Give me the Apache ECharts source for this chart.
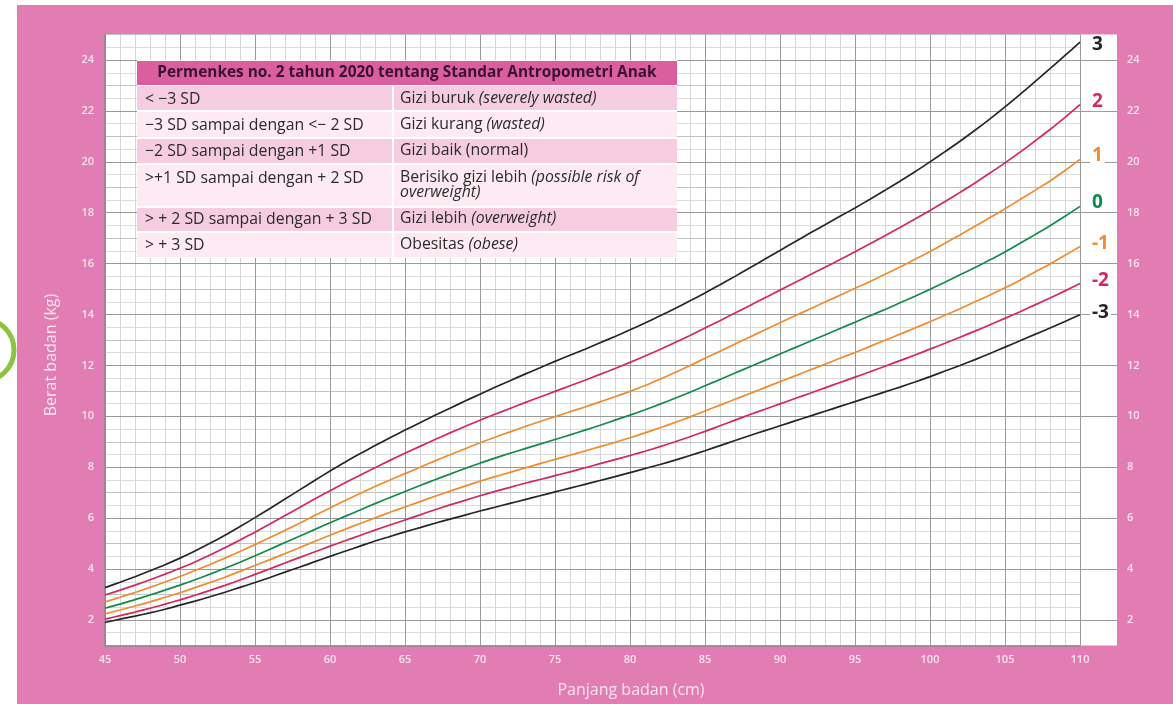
<!DOCTYPE html>
<html><head><meta charset="utf-8">
<script src="https://cdn.jsdelivr.net/npm/echarts@6/dist/echarts.min.js"></script>
<style>
html,body{margin:0;padding:0;background:#fff;}
#c{width:1173px;height:704px;background:
 linear-gradient(#fff,#fff) 0 0/17px 100% no-repeat,
 linear-gradient(#fff,#fff) 0 0/100% 5px no-repeat, #e27db3;}
</style></head><body><div id="c"></div>
<script>
const lengths = [45,46,47,48,49,50,51,52,53,54,55,56,57,58,59,60,61,62,63,64,65,66,67,68,69,70,71,72,73,74,75,76,77,78,79,80,81,82,83,84,85,86,87,88,89,90,91,92,93,94,95,96,97,98,99,100,101,102,103,104,105,106,107,108,109,110];
const sdNeg3 = [1.9,2.03,2.15,2.28,2.42,2.58,2.74,2.91,3.09,3.28,3.47,3.67,3.88,4.08,4.29,4.5,4.7,4.9,5.1,5.28,5.46,5.63,5.8,5.96,6.12,6.28,6.43,6.58,6.73,6.88,7.03,7.18,7.33,7.48,7.63,7.79,7.95,8.11,8.28,8.46,8.65,8.85,9.05,9.25,9.44,9.63,9.82,10.01,10.2,10.39,10.58,10.77,10.96,11.15,11.35,11.56,11.78,12.0,12.23,12.47,12.72,12.97,13.22,13.47,13.73,13.99];
const sdNeg2 = [2.03,2.17,2.31,2.46,2.62,2.79,2.97,3.16,3.36,3.57,3.79,4.01,4.24,4.46,4.68,4.9,5.11,5.32,5.53,5.73,5.93,6.13,6.33,6.52,6.7,6.88,7.05,7.21,7.37,7.52,7.67,7.82,7.98,8.14,8.3,8.46,8.63,8.81,9.0,9.2,9.41,9.63,9.85,10.07,10.28,10.49,10.7,10.91,11.12,11.33,11.54,11.75,11.97,12.19,12.41,12.64,12.87,13.11,13.35,13.6,13.85,14.11,14.38,14.65,14.93,15.22];
const sdNeg1 = [2.24,2.39,2.55,2.71,2.89,3.07,3.27,3.47,3.68,3.91,4.14,4.37,4.61,4.85,5.09,5.33,5.56,5.79,6.01,6.23,6.44,6.65,6.86,7.06,7.26,7.45,7.63,7.8,7.97,8.14,8.31,8.47,8.64,8.81,8.98,9.16,9.35,9.55,9.76,9.98,10.21,10.44,10.67,10.9,11.13,11.36,11.59,11.82,12.05,12.28,12.51,12.75,12.99,13.23,13.47,13.72,13.97,14.23,14.5,14.77,15.05,15.35,15.67,15.99,16.33,16.67];
const sd0 = [2.46,2.62,2.8,2.98,3.17,3.37,3.58,3.8,4.03,4.27,4.52,4.78,5.04,5.3,5.56,5.82,6.07,6.32,6.57,6.81,7.05,7.28,7.51,7.73,7.95,8.16,8.36,8.55,8.73,8.91,9.09,9.27,9.46,9.65,9.85,10.05,10.26,10.48,10.71,10.95,11.2,11.45,11.7,11.95,12.2,12.45,12.7,12.95,13.2,13.45,13.7,13.95,14.2,14.46,14.72,14.99,15.27,15.56,15.85,16.15,16.46,16.8,17.14,17.49,17.86,18.25];
const sd1 = [2.71,2.89,3.08,3.28,3.49,3.71,3.94,4.18,4.43,4.69,4.96,5.24,5.52,5.81,6.11,6.4,6.69,6.97,7.24,7.5,7.75,8.0,8.25,8.49,8.73,8.96,9.18,9.39,9.6,9.8,9.99,10.18,10.37,10.57,10.77,10.98,11.21,11.46,11.72,12.0,12.28,12.56,12.84,13.12,13.4,13.68,13.95,14.22,14.49,14.76,15.03,15.3,15.58,15.87,16.17,16.48,16.8,17.13,17.47,17.81,18.16,18.52,18.88,19.25,19.66,20.1];
const sd2 = [2.98,3.17,3.37,3.58,3.8,4.03,4.28,4.55,4.84,5.14,5.45,5.77,6.1,6.43,6.76,7.08,7.39,7.69,7.98,8.27,8.55,8.82,9.09,9.35,9.6,9.85,10.08,10.31,10.54,10.76,10.98,11.2,11.42,11.65,11.88,12.12,12.37,12.63,12.9,13.18,13.47,13.76,14.06,14.36,14.66,14.96,15.26,15.56,15.86,16.16,16.47,16.78,17.1,17.42,17.75,18.09,18.44,18.8,19.17,19.56,19.96,20.38,20.82,21.27,21.75,22.25];
const sd3 = [3.27,3.48,3.7,3.93,4.17,4.43,4.71,5.01,5.33,5.67,6.02,6.38,6.75,7.12,7.49,7.85,8.2,8.53,8.85,9.16,9.46,9.75,10.04,10.32,10.6,10.87,11.14,11.4,11.66,11.91,12.16,12.4,12.64,12.89,13.14,13.4,13.67,13.95,14.24,14.54,14.85,15.17,15.5,15.84,16.18,16.52,16.86,17.2,17.53,17.86,18.19,18.53,18.88,19.24,19.61,20.0,20.4,20.81,21.24,21.69,22.16,22.65,23.15,23.66,24.18,24.7];
const curveLabels = ['3','2','1','0','-1','-2','-3'];
const xAxisName = 'Panjang badan (cm)';
const yAxisName = 'Berat badan (kg)';
const tableTitle = 'Permenkes no. 2 tahun 2020 tentang Standar Antropometri Anak';
const tableLeft = ['< \u22123 SD', '\u22123 SD sampai dengan <\u2212 2 SD', '\u22122 SD sampai dengan +1 SD', '>+1 SD sampai dengan + 2 SD', '> + 2 SD sampai dengan + 3 SD', '> + 3 SD'];
const tableRightPlain = ['Gizi buruk ', 'Gizi kurang ', 'Gizi baik (normal)', 'Berisiko gizi lebih ', 'Gizi lebih ', 'Obesitas '];
const tableRightItalic = ['(severely wasted)', '(wasted)', '', '(possible risk of\noverweight)', '(overweight)', '(obese)'];

const FONT = 'Open Sans';
const LBL = '#fbe3ef';
const BLACK = '#262626', CRIMSON = '#d4275a', ORANGE = '#f08b2e', GREEN = '#138a4d';
const seriesDefs = [
  {name: curveLabels[0], vals: sd3, color: BLACK, dy: 2},
  {name: curveLabels[1], vals: sd2, color: CRIMSON, dy: -3},
  {name: curveLabels[2], vals: sd1, color: ORANGE, dy: -4},
  {name: curveLabels[3], vals: sd0, color: GREEN, dy: -4},
  {name: curveLabels[4], vals: sdNeg1, color: ORANGE, dy: -3},
  {name: curveLabels[5], vals: sdNeg2, color: CRIMSON, dy: -3},
  {name: curveLabels[6], vals: sdNeg3, color: BLACK, dy: -2}
];

const chart = echarts.init(document.getElementById('c'), null, {renderer: 'canvas'});
const evenFmt = v => (Math.round(v) % 2 === 0 ? String(v) : '');

// Table graphics
const TX = 137, TW = 540, COLX = 392;
const rowGeom = [[86,24],[112,25],[139,24],[165,41],[208,23],[233,24]];
const rowTextY = [99,125,151,178,219,245];
const BODY = 15.8;
const graphics = [];
graphics.push({type:'rect', shape:{x:TX, y:60, width:TW, height:198}, style:{fill:'#fff'}, z:100, silent:true});
graphics.push({type:'rect', shape:{x:TX, y:61, width:TW, height:24}, style:{fill:'#db5f9f'}, z:101, silent:true});
graphics.push({type:'text', x:TX+TW/2, y:73, style:{text:tableTitle, fill:'#3a1230', font:'bold 15.4px ' + FONT, align:'center', verticalAlign:'middle'}, z:102, silent:true});
rowGeom.forEach((g, i) => {
  const fill = i % 2 === 0 ? '#f6cde0' : '#fdeaf3';
  graphics.push({type:'rect', shape:{x:TX, y:g[0], width:COLX-TX, height:g[1]}, style:{fill}, z:101, silent:true});
  graphics.push({type:'rect', shape:{x:COLX+2, y:g[0], width:TX+TW-COLX-2, height:g[1]}, style:{fill}, z:101, silent:true});
  graphics.push({type:'text', x:TX+8, y:rowTextY[i], style:{text:tableLeft[i], fill:'#2b2b2b', font:BODY + 'px ' + FONT, verticalAlign:'middle'}, z:102, silent:true});
  const it = tableRightItalic[i];
  let rich = '{n|' + tableRightPlain[i] + '}';
  if (it) {
    rich += it.split('\n').map((p, k) => (k ? '\n' : '') + '{i|' + p + '}').join('');
  }
  graphics.push({type:'text', x:COLX+8, y:rowTextY[i] - 8, style:{text:rich, fill:'#2b2b2b', verticalAlign:'top',
    rich:{n:{fontFamily:FONT, fontSize:BODY, fill:'#2b2b2b', lineHeight:15}, i:{fontFamily:FONT, fontSize:BODY, fontStyle:'italic', fill:'#2b2b2b', lineHeight:15}}}, z:102, silent:true});
});
graphics.push({type:'text', x:51, y:355, rotation:Math.PI/2, style:{text:yAxisName, fill:LBL, font:'16px ' + FONT, align:'center', verticalAlign:'middle'}, silent:true});
graphics.push({type:'text', x:631, y:690, style:{text:xAxisName, fill:LBL, font:'16px ' + FONT, align:'center', verticalAlign:'middle'}, silent:true});
graphics.push({type:'circle', shape:{cx:-17, cy:350, r:31}, style:{fill:'rgba(0,0,0,0)', stroke:'#8cc43f', lineWidth:5}, silent:true});

const option = {
  animation: false,
  backgroundColor: 'transparent',
  grid: [
    {left:105, top:34.6, width:975, height:610.8, show:true, backgroundColor:'#fff', borderWidth:0},
    {left:1080, top:34.6, width:37, height:610.8, show:true, backgroundColor:'#fff', borderWidth:0}
  ],
  xAxis: [
    {gridIndex:0, type:'value', min:45, max:110, interval:5, z:2,
     axisLine:{show:true, onZero:false, lineStyle:{color:'#8a8a8a', width:1.5}}, axisTick:{show:false},
     axisLabel:{color:LBL, fontSize:11, fontWeight:600, margin:9, fontFamily:FONT},
     splitLine:{show:true, lineStyle:{color:'#9a9a9a', width:1}}},
    {gridIndex:0, type:'value', min:45, max:110, interval:1, z:0,
     axisLine:{show:false}, axisTick:{show:false}, axisLabel:{show:false},
     splitLine:{show:true, lineStyle:{color:'#d6d6d6', width:1}}},
    {gridIndex:1, type:'value', min:0, max:1, show:false}
  ],
  yAxis: [
    {gridIndex:0, type:'value', min:1, max:25, interval:1, position:'left', z:2,
     axisLine:{show:true, onZero:false, lineStyle:{color:'#8a8a8a', width:1.5}}, axisTick:{show:false},
     axisLabel:{formatter:evenFmt, color:LBL, fontSize:11, fontWeight:600, margin:11, fontFamily:FONT},
     splitLine:{show:true, lineStyle:{color:['#c2c2c2','#9a9a9a'], width:1}}},
    {gridIndex:0, type:'value', min:1, max:25, interval:0.5, z:0,
     axisLine:{show:false}, axisTick:{show:false}, axisLabel:{show:false},
     splitLine:{show:true, lineStyle:{color:'#dcdcdc', width:1}}},
    {gridIndex:1, type:'value', min:1, max:25, interval:1, position:'right', z:2,
     axisLine:{show:false}, axisTick:{show:false},
     axisLabel:{formatter:evenFmt, color:LBL, fontSize:11, fontWeight:600, margin:10, fontFamily:FONT},
     splitLine:{show:true, lineStyle:{color:['rgba(0,0,0,0)','#9a9a9a'], width:1}}}
  ],
  series: seriesDefs.map(s => ({
    type:'line', name:s.name, xAxisIndex:0, yAxisIndex:0, z:5,
    data: lengths.map((x, i) => [x, s.vals[i]]),
    smooth: 0.35, symbol:'none',
    lineStyle:{color:s.color, width:1.7},
    endLabel:{show:true, formatter:s.name, color:s.color, fontSize:19, fontWeight:'bold', fontFamily:FONT,
      distance:10, offset:[0, s.dy], backgroundColor:'#fff', padding:[0,2]}
  })),
  graphic: graphics
};
chart.setOption(option);
</script>
</body></html>
